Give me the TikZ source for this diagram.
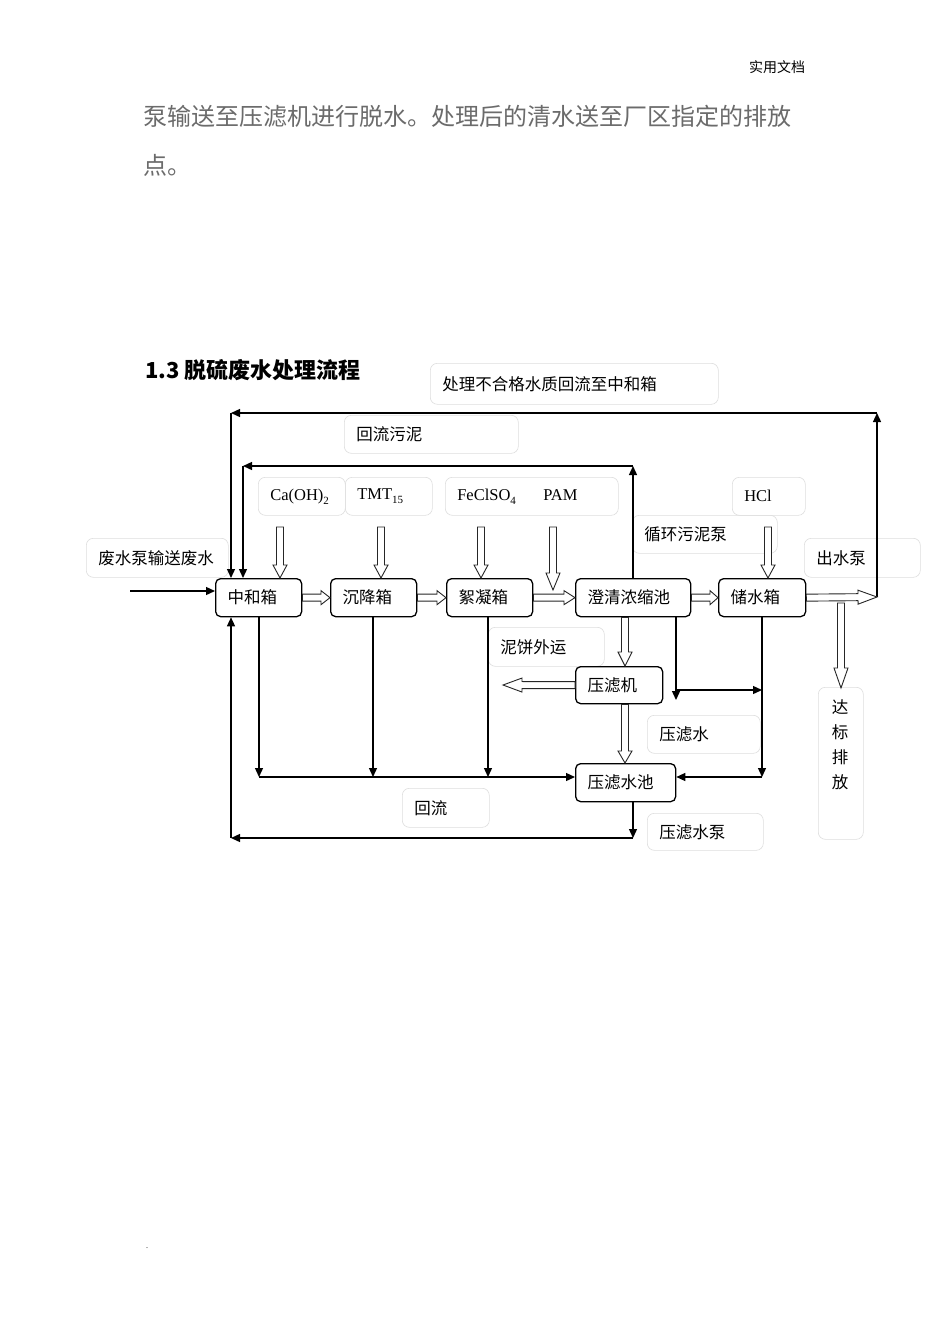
\documentclass[tikz,border=0pt]{standalone}
\usepackage{fontspec}
\setmainfont{Liberation Serif}
\newfontfamily\cjk{Noto Sans CJK SC}
\usetikzlibrary{arrows.meta,calc}

\newcommand\hol[3][10]{%
  \coordinate (hA) at (#2);
  \coordinate (hB) at (#3);
  \coordinate (hC) at ($(hB)!#1pt!(hA)$);
  \draw[hollow] ($(hA)!3.5pt!90:(hB)$) -- ($(hC)!3.5pt!-90:(hA)$) -- ($(hC)!7pt!-90:(hA)$) -- (hB)
     -- ($(hC)!7pt!90:(hA)$) -- ($(hC)!3.5pt!90:(hA)$) -- ($(hA)!3.5pt!-90:(hB)$) -- cycle;
}
\newcommand\lowsub[1]{\raisebox{-4pt}{\fontsize{11}{11}\selectfont #1}}

\begin{document}
\begin{tikzpicture}[x=1pt,y=-1pt,
  box/.style={draw=black, line width=1.3pt, rounded corners=5pt, inner xsep=12pt, inner ysep=0pt,
    align=left, anchor=north west, font=\cjk\fontsize{16.5}{20}\selectfont},
  lbl/.style={draw=black!13, line width=0.6pt, rounded corners=7pt, inner xsep=12pt, inner ysep=0pt,
    align=left, anchor=north west, font=\cjk\fontsize{16.5}{20}\selectfont},
  latin/.style={font=\fontsize{16.5}{20}\selectfont},
  flow/.style={line width=1.3pt, -{Triangle[length=9pt,width=8pt]}},
  hollow/.style={draw=black!85, line width=0.9pt, fill=white, line join=miter},
]
\fill[white] (0,0) rectangle (950,1344);
\useasboundingbox (0,0) rectangle (950,1344);

% page texts
\node[anchor=west, inner sep=0pt, font=\cjk\fontsize{14}{16}\selectfont] (hdr) at (749,67) {实用文档};
\node[anchor=west, inner sep=0pt, text=black!58, font=\cjk\fontsize{24}{28}\selectfont] (p1) at (143,116)
  {泵输送至压滤机进行脱水。处理后的清水送至厂区指定的排放};
\node[anchor=west, inner sep=0pt, text=black!58, font=\cjk\fontsize{24}{28}\selectfont] (p2) at (143,165) {点。};
\node[anchor=west, inner sep=0pt, font=\cjk\bfseries\fontsize{22}{26}\selectfont] (ttl) at (145,370)
  {1.3 脱硫废水处理流程};
\node[inner sep=0pt, font=\fontsize{8}{10}\selectfont] (dot) at (147,1248) {.};

% label boxes
\node[lbl, minimum height=41pt, text width=264pt] (l1) at (430,363) {处理不合格水质回流至中和箱};
\node[lbl, minimum height=38pt, text width=150pt] (l2) at (344,415) {回流污泥};
\node[lbl, latin, minimum height=38pt, text width=63pt] (l3) at (258,477) {Ca(OH)\lowsub{2}};
\node[lbl, latin, minimum height=38pt, text width=63pt] (l4) at (345,477) {TMT\lowsub{15}};
\node[lbl, latin, minimum height=38pt, text width=149pt] (l5) at (445,477)
  {\makebox[86pt][l]{FeClSO\lowsub{4}}PAM};
\node[lbl, latin, minimum height=38pt, text width=49pt] (l6) at (732,477) {HCl};
\node[lbl, minimum height=38pt, text width=121pt] (l7) at (632,515) {循环污泥泵};
\node[lbl, minimum height=39pt, text width=92pt] (l8) at (804,538) {出水泵};
\node[lbl, minimum height=39pt, text width=118pt] (l9) at (86,538) {废水泵输送废水};
\node[lbl, minimum height=39pt, text width=92pt] (l10) at (488,627) {泥饼外运};
\node[lbl, minimum height=38pt, text width=89pt] (l11) at (647,715) {压滤水};
\node[lbl, minimum width=45pt, minimum height=152pt, inner xsep=0pt] (l12) at (818,687) {};
\node[anchor=north, inner sep=0pt, align=center, font=\cjk\fontsize{16.5}{25}\selectfont] (l12t) at (840,699)
  {达\\标\\排\\放};
\node[lbl, minimum height=39pt, text width=63pt] (l13) at (402,788) {回流};
\node[lbl, minimum height=37pt, text width=92pt] (l14) at (647,813) {压滤水泵};

% process boxes
\node[box, minimum height=38pt, text width=62pt] (zh) at (215,578) {中和箱};
\node[box, minimum height=38pt, text width=62pt] (cj) at (330,578) {沉降箱};
\node[box, minimum height=38pt, text width=62pt] (xn) at (446,578) {絮凝箱};
\node[box, minimum height=38pt, text width=91pt] (cq) at (575,578) {澄清浓缩池};
\node[box, minimum height=38pt, text width=63pt] (cs) at (718,578) {储水箱};
\node[box, minimum height=37pt, text width=63pt] (ylj) at (575,666) {压滤机};
\node[box, minimum height=38pt, text width=76pt] (ylc) at (575,763) {压滤水池};

% coordinates
\coordinate (inS) at (130,591);
\coordinate (outE) at (877,597);
\coordinate (tR) at (877,413);
\coordinate (tL) at (231,413);
\coordinate (mR) at (633,466);
\coordinate (mL) at (243,466);
\coordinate (bR) at (633,838);
\coordinate (bL) at (231,838);
\coordinate (d1) at (259,777);
\coordinate (d2) at (373,777);
\coordinate (d3) at (488,777);
\coordinate (d4) at (762,777);
\coordinate (d5) at (676,700);
\coordinate (j5) at (676,690);
\coordinate (j6) at (762,690);
\coordinate (x625) at (625,0);
\coordinate (nbE) at (503,685);
\coordinate (dbS) at (841,603);
\coordinate (dbE) at (841,688);
\coordinate (caS) at (280,527);
\coordinate (tmS) at (381,527);
\coordinate (feS) at (481,527);
\coordinate (pmS) at (553,527);
\coordinate (pmE) at (553,590);
\coordinate (hcS) at (768,527);

% thin flow lines
\draw[flow] (inS) -- (inS -| zh.west);
\draw[flow] (outE) -- (tR);
\draw[flow] (tR) -- (tL);
\draw[flow] (tL) -- (tL |- zh.north);
\draw[flow] (cq.north -| mR) -- (mR);
\draw[flow] (mR) -- (mL);
\draw[flow] (mL) -- (mL |- zh.north);
\draw[flow] (ylc.south -| bR) -- (bR);
\draw[flow] (bR) -- (bL);
\draw[flow] (bL) -- (bL |- zh.south);
\draw[flow] (zh.south -| d1) -- (d1);
\draw[flow] (cj.south -| d2) -- (d2);
\draw[flow] (xn.south -| d3) -- (d3);
\draw[flow] (d1) -- (d1 -| ylc.west);
\draw[flow] (cs.south -| d4) -- (d4);
\draw[flow] (d4) -- (d4 -| ylc.east);
\draw[flow] (cq.south -| d5) -- (d5);
\draw[flow] (j5) -- (j6);

% hollow arrows
\hol[9]{zh.east}{cj.west}
\hol[9]{cj.east}{xn.west}
\hol[11]{xn.east}{cq.west}
\hol[8]{cq.east}{cs.west}
\hol[19]{cs.east}{outE}
\hol[20]{dbS}{dbE}
\hol[13]{caS}{caS |- zh.north}
\hol[13]{tmS}{tmS |- cj.north}
\hol[13]{feS}{feS |- xn.north}
\hol[17]{pmS}{pmE}
\hol[13]{hcS}{hcS |- cs.north}
\hol[14]{cq.south -| x625}{ylj.north -| x625}
\hol[12]{ylj.south -| x625}{ylc.north -| x625}
\hol[19]{ylj.west}{nbE}
\end{tikzpicture}
\end{document}
